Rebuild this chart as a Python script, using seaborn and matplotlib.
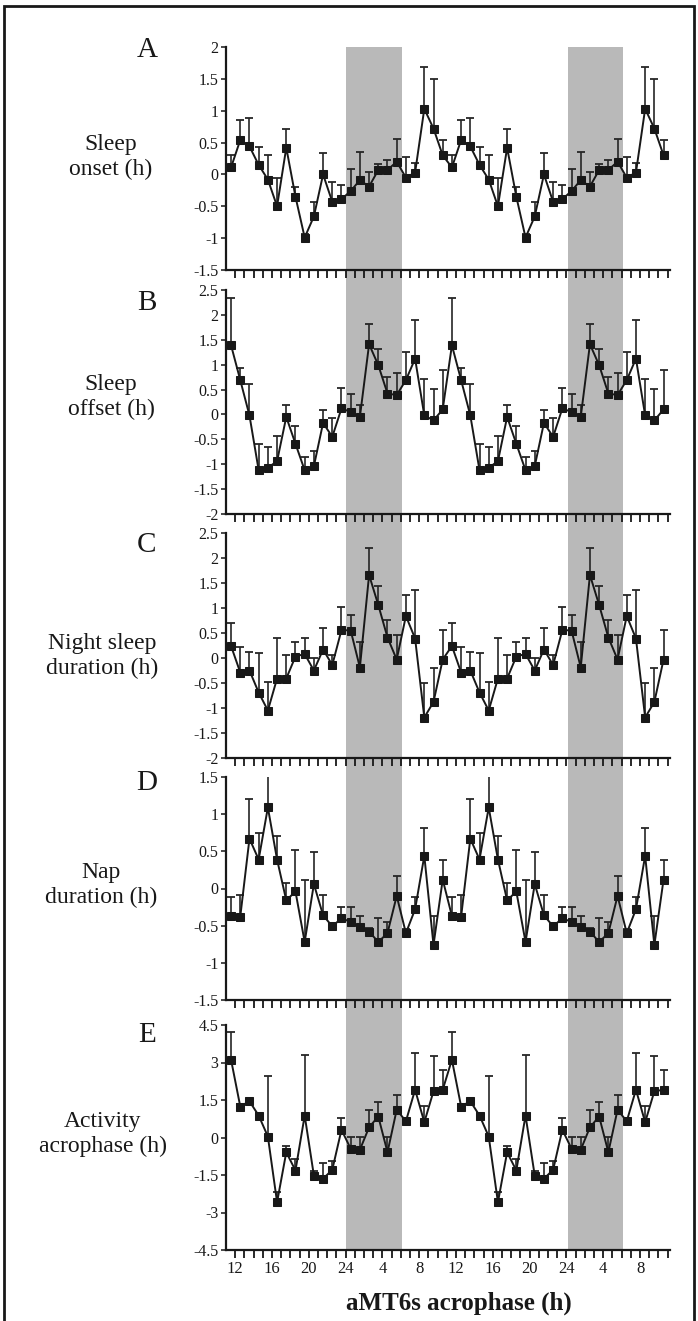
import numpy as np
import pandas as pd
import matplotlib
matplotlib.use("Agg")
import matplotlib.pyplot as plt
import seaborn as sns
from matplotlib.patches import Rectangle
from matplotlib import transforms

# ---------------- data (one 24-h cycle, double plotted) ----------------
hour_labels = ['12', '16', '20', '24', '4', '8', '12', '16', '20', '24', '4', '8']

onset_mean = [0.11, 0.54, 0.44, 0.15, -0.08, -0.50, 0.42, -0.35, -0.99, -0.66, 0.00, -0.43,
              -0.39, -0.26, -0.09, -0.19, 0.07, 0.07, 0.20, -0.05, 0.03, 1.03, 0.72, 0.30]
onset_err = [0.19, 0.31, 0.45, 0.28, 0.38, 0.44, 0.30, 0.16, 0.05, 0.23, 0.33, 0.31,
             0.22, 0.35, 0.44, 0.23, 0.10, 0.15, 0.36, 0.32, 0.15, 0.66, 0.77, 0.24]

offset_mean = [1.39, 0.69, -0.02, -1.12, -1.07, -0.94, -0.05, -0.59, -1.12, -1.04, -0.17, -0.45,
               0.12, 0.05, -0.05, 1.41, 0.99, 0.42, 0.39, 0.69, 1.12, -0.02, -0.12, 0.10]
offset_err = [0.94, 0.25, 0.64, 0.52, 0.42, 0.50, 0.24, 0.35, 0.26, 0.31, 0.25, 0.37,
              0.42, 0.36, 0.24, 0.40, 0.32, 0.33, 0.45, 0.57, 0.78, 0.74, 0.64, 0.79]

night_mean = [0.24, -0.29, -0.25, -0.69, -1.05, -0.41, -0.41, 0.03, 0.08, -0.25, 0.17, -0.14,
              0.56, 0.55, -0.19, 1.66, 1.06, 0.41, -0.03, 0.84, 0.39, -1.19, -0.88, -0.03]
night_err = [0.47, 0.52, 0.38, 0.80, 0.58, 0.81, 0.48, 0.30, 0.32, 0.25, 0.44, 0.21,
             0.47, 0.32, 0.52, 0.54, 0.39, 0.36, 0.50, 0.43, 0.98, 0.69, 0.68, 0.60]

nap_mean = [-0.37, -0.38, 0.67, 0.39, 1.09, 0.39, -0.16, -0.04, -0.72, 0.06, -0.36, -0.51,
            -0.40, -0.45, -0.52, -0.58, -0.72, -0.60, -0.10, -0.60, -0.28, 0.44, -0.76, 0.12]
nap_err = [0.26, 0.29, 0.54, 0.35, 0.42, 0.32, 0.23, 0.56, 0.83, 0.43, 0.27, 0.05,
           0.15, 0.20, 0.15, 0.05, 0.32, 0.15, 0.27, 0.05, 0.17, 0.37, 0.39, 0.26]

act_mean = [3.11, 1.24, 1.45, 0.88, 0.04, -2.59, -0.59, -1.32, 0.88, -1.52, -1.65, -1.29,
            0.31, -0.45, -0.49, 0.41, 0.84, -0.59, 1.11, 0.65, 1.91, 0.61, 1.85, 1.91]
act_err = [1.10, 0.10, 0.10, 0.10, 2.44, 0.40, 0.27, 0.47, 2.44, 0.20, 0.62, 0.34,
           0.48, 0.46, 0.50, 0.70, 0.57, 0.63, 0.61, 0.10, 1.46, 0.67, 1.43, 0.80]

panel_letters = ['A', 'B', 'C', 'D', 'E']
panel_ylabels = ['Sleep\nonset (h)', 'Sleep\noffset (h)', 'Night sleep\nduration (h)',
                 'Nap\nduration (h)', 'Activity\nacrophase (h)']
panel_means = [onset_mean, offset_mean, night_mean, nap_mean, act_mean]
panel_errs = [onset_err, offset_err, night_err, nap_err, act_err]
panel_ylims = [(-1.5, 2.0), (-2.0, 2.5), (-2.0, 2.5), (-1.5, 1.5), (-4.5, 4.5)]
panel_ystep = [0.5, 0.5, 0.5, 0.5, 1.5]
shade_spans = [(12.5, 18.6), (36.6, 42.6)]

# ---------------- style ----------------
sns.set_theme(style='ticks')
plt.rcParams['font.family'] = ['Liberation Serif', 'DejaVu Serif']
plt.rcParams['axes.unicode_minus'] = False
INK = '#181818'

W, H = 698, 1321
fig = plt.figure(figsize=(W / 100, H / 100), dpi=100)
fig.patch.set_facecolor('white')

left_px, right_px = 226, 670
rows_px = [(47, 270), (290, 514), (533, 758), (777, 1000), (1025, 1250)]
letter_px = [(147, 50), (147, 303), (147, 545), (147, 783), (147, 1035)]
ylabel_px = [(111, 157), (111, 397), (102, 656), (101, 885), (103, 1134)]

xmin, xmax = -0.55, 47.7

def fmt(v):
    s = ('%.1f' % v).rstrip('0').rstrip('.')
    return '0' if s in ('-0', '0') else s

axes = []
for i in range(5):
    top, bot = rows_px[i]
    ax = fig.add_axes([left_px / W, 1 - bot / H, (right_px - left_px) / W, (bot - top) / H])
    ax.set_facecolor('none')
    axes.append(ax)

    mean2 = np.array(panel_means[i] * 2)
    err2 = np.array(panel_errs[i] * 2)
    df = pd.DataFrame({'pos': np.arange(len(mean2)), 'val': mean2, 'err': err2})

    ax.errorbar(df['pos'], df['val'], yerr=[np.zeros(len(df)), df['err']], fmt='none',
                ecolor='#262626', elinewidth=1.2, capsize=2.8, capthick=1.3, zorder=2)
    sns.lineplot(data=df, x='pos', y='val', ax=ax, color=INK, lw=1.4, marker='s',
                 markersize=6.2, markeredgecolor=INK, markerfacecolor=INK,
                 estimator=None, sort=False, zorder=3)

    lo, hi = panel_ylims[i]
    ax.set_ylim(lo, hi)
    ax.set_xlim(xmin, xmax)
    yt = np.arange(lo, hi + 1e-9, panel_ystep[i])
    ax.set_yticks(yt)
    ax.set_yticklabels([fmt(v) for v in yt])

    major = [4 * k + 0.45 for k in range(12)]
    minor = [j + 0.45 for j in range(48) if j % 4 != 0]
    ax.set_xticks(major)
    ax.set_xticks(minor, minor=True)
    if i == 4:
        ax.set_xticklabels(hour_labels)
    else:
        ax.set_xticklabels([])

    ax.set_xlabel('')
    ax.set_ylabel('')
    for s in ['top', 'right']:
        ax.spines[s].set_visible(False)
    for s in ['left', 'bottom']:
        ax.spines[s].set_linewidth(1.6)
        ax.spines[s].set_color(INK)
    ax.tick_params(axis='x', which='both', direction='out', length=6, width=1.3,
                   color=INK, labelsize=12, pad=2, labelcolor=INK)
    ax.tick_params(axis='y', which='both', direction='out', length=3.5, width=1.1,
                   color=INK, labelsize=11.5, pad=2, labelcolor=INK)

    lx, ly = letter_px[i]
    fig.text(lx / W, 1 - ly / H, panel_letters[i], ha='center', va='center',
             fontsize=21, color=INK)
    tx, ty = ylabel_px[i]
    fig.text(tx / W, 1 - ty / H, panel_ylabels[i], ha='center', va='center',
             fontsize=17, linespacing=1.2, multialignment='center', color=INK)

# shaded night bands spanning all panels
trans = transforms.blended_transform_factory(axes[0].transData, fig.transFigure)
y0 = 1 - rows_px[-1][1] / H
y1 = 1 - rows_px[0][0] / H
for a, b in shade_spans:
    fig.patches.append(Rectangle((a, y0), b - a, y1 - y0, transform=trans,
                                 facecolor='#b9b9b9', edgecolor='none', zorder=-5))

fig.text(459 / W, 1 - 1303 / H, 'aMT6s acrophase (h)', ha='center', va='center',
         fontsize=18, fontweight='bold', color=INK)

# outer frame
fig.patches.append(Rectangle((4 / W, -0.02), (694 - 4) / W, 1.02 - 6 / H,
                             transform=fig.transFigure, fill=False,
                             edgecolor=INK, linewidth=2.0, zorder=10))

fig.savefig('out.png', dpi=100, facecolor='white')
